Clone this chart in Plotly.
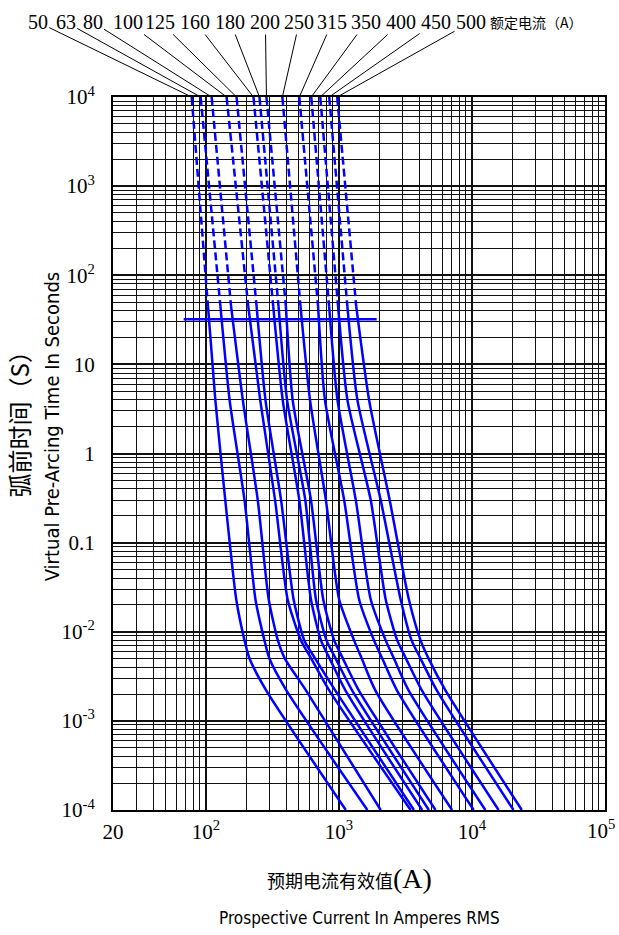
import math
import plotly.graph_objects as go

# ---------------- data ----------------
RATINGS = ["50", "63", "80", "100", "125", "160", "180", "200",
           "250", "315", "350", "400", "450", "500"]

# pre-arcing time levels (s) at which each curve's current was read
TIMES = [1e4, 45, 4, 0.3, 0.023, 0.008, 0.005, 0.0022, 1e-4]

# prospective current (A) of each rating at TIMES
I_50 = [78.1, 103.5, 117.6, 139.7, 168.9, 194.9, 212.5, 283.5, 1126]
I_63 = [91.2, 128.4, 150.5, 194.9, 235.6, 275.2, 299.9, 402.3, 1635]
I_80 = [110.3, 154.4, 189.2, 245.1, 296.3, 347.3, 391.9, 564.8, 2059]
I_100 = [142.9, 207.8, 255.6, 330.9, 411.3, 518.2, 618.9, 844.3, 3455]
I_125 = [169.8, 240.1, 280.0, 367.0, 456.1, 548.6, 663.1, 936.3, 3658]
I_160 = [227.6, 320.3, 377.3, 503.2, 615.8, 731.9, 851.5, 1118, 4221]
I_180 = [252.5, 351.0, 407.1, 558.1, 671.1, 805.8, 944.5, 1255, 4737]
I_200 = [284.9, 398.6, 448.3, 615.8, 761.4, 920.3, 1071, 1409, 5318]
I_250 = [375.3, 513.7, 605.3, 797.5, 1003, 1299, 1484, 1876, 7082]
I_315 = [503.2, 696.0, 784.1, 1094, 1417, 1834, 2117, 2728, 10293]
I_350 = [618.9, 842.8, 974.1, 1338, 1733, 2245, 2591, 3338, 12600]
I_400 = [723.2, 984.2, 1157, 1733, 2245, 2742, 3192, 4200, 15846]
I_450 = [844.3, 1156, 1375, 2059, 2908, 3515, 4107, 5439, 20521]
I_500 = [969.2, 1347, 1683, 2405, 3355, 4107, 4721, 6318, 23680]

CURRENTS = [I_50, I_63, I_80, I_100, I_125, I_160, I_180, I_200,
            I_250, I_315, I_350, I_400, I_450, I_500]

# horizontal marker line
HLINE_TIME = 32
HLINE_CURRENTS = [68, 1920]

X_TICKVALS = [20, 100, 1000, 10000, 100000]
X_TICKTEXT = ["20", "10<sup>2</sup>", "10<sup>3</sup>", "10<sup>4</sup>", "10<sup>5</sup>"]
Y_TICKVALS = [1e-4, 1e-3, 1e-2, 0.1, 1, 10, 100, 1e3, 1e4]
Y_TICKTEXT = ["10<sup>-4</sup>", "10<sup>-3</sup>", "10<sup>-2</sup>", "0.1", "1", "10",
              "10<sup>2</sup>", "10<sup>3</sup>", "10<sup>4</sup>"]

# ---------------- layout constants ----------------
W, H = 619, 935
L, R, T, B = 113, 607, 97, 810
BLUE = "#0000FF"
SERIF = "Liberation Serif"
SANS_C = "DejaVu Sans Condensed, Liberation Sans, sans-serif"
CJK = "Noto Sans CJK SC"

X_MIN_LOG = math.log10(20)


def px_x(current):
    return L + (math.log10(current) - X_MIN_LOG) / (5 - X_MIN_LOG) * (R - L)


def paper_x(px):
    return (px - L) / (R - L)


def paper_y(py):
    return (B - py) / (B - T)


fig = go.Figure()

for name, cur in zip(RATINGS, CURRENTS):
    fig.add_trace(go.Scatter(
        x=cur[0:2], y=TIMES[0:2], mode="lines",
        line=dict(color=BLUE, width=2.5, dash="8px,4px"),
        hoverinfo="skip", showlegend=False, name=name + "A"))
    fig.add_trace(go.Scatter(
        x=cur[1:], y=TIMES[1:], mode="lines",
        line=dict(color=BLUE, width=2.5, shape="spline", smoothing=0.6),
        showlegend=False, name=name + "A"))

fig.add_trace(go.Scatter(
    x=HLINE_CURRENTS, y=[HLINE_TIME, HLINE_TIME], mode="lines",
    line=dict(color=BLUE, width=2.5), showlegend=False, hoverinfo="skip"))

# minor grid values
x_minor = [k * 10 ** d for d in range(1, 5) for k in range(2, 10) if k * 10 ** d >= 20]
y_minor = [k * 10.0 ** d for d in range(-4, 4) for k in range(2, 10)]

# the last x tick label sits at the page edge; it is drawn as an annotation
# (right-shifted inside the page) so it does not overflow the figure
axis_ticktext = X_TICKTEXT[:-1] + [""]

GRID = "#111111"
fig.update_xaxes(
    type="log", range=[X_MIN_LOG, 5],
    tickmode="array", tickvals=X_TICKVALS, ticktext=axis_ticktext,
    showgrid=True, gridcolor=GRID, gridwidth=2,
    minor=dict(tickmode="array", tickvals=x_minor, showgrid=True,
               gridcolor=GRID, gridwidth=1.2, ticks=""),
    showline=True, mirror=True, linecolor="black", linewidth=2,
    ticks="", ticklabelstandoff=2,
    tickfont=dict(family=SERIF, size=21, color="black"),
    zeroline=False,
)
fig.update_yaxes(
    type="log", range=[-4, 4],
    tickmode="array", tickvals=Y_TICKVALS, ticktext=Y_TICKTEXT,
    showgrid=True, gridcolor=GRID, gridwidth=2,
    minor=dict(tickmode="array", tickvals=y_minor, showgrid=True,
               gridcolor=GRID, gridwidth=1.2, ticks=""),
    showline=True, mirror=True, linecolor="black", linewidth=2,
    ticks="", ticklabelstandoff=12,
    tickfont=dict(family=SERIF, size=21, color="black"),
    zeroline=False,
)

annotations = []

# rating labels with leader lines to the top of each curve
LABEL_PX = [38, 66, 93, 128, 161, 196, 231, 266, 300, 333, 367, 402, 437, 472]
LABEL_PY = 22
for name, cur, lx in zip(RATINGS, CURRENTS, LABEL_PX):
    top_px = px_x(cur[0])
    annotations.append(dict(
        x=math.log10(cur[0]), y=math.log10(TIMES[0]), xref="x", yref="y",
        text=name, showarrow=True, arrowhead=0, arrowwidth=1, arrowcolor="black",
        ax=lx - top_px, ay=LABEL_PY - T, standoff=0,
        font=dict(family=SERIF, size=20, color="black"),
    ))


def label(px, py, text, font, angle=0):
    annotations.append(dict(
        x=paper_x(px), y=paper_y(py), xref="paper", yref="paper",
        xanchor="center", yanchor="middle",
        text=text, showarrow=False, textangle=angle, font=font))


# last x tick label (10^5)
annotations.append(dict(
    x=math.log10(X_TICKVALS[-1]), y=paper_y(829), xref="x", yref="paper",
    xanchor="center", yanchor="middle", xshift=-4,
    text=X_TICKTEXT[-1], showarrow=False,
    font=dict(family=SERIF, size=21, color="black")))

label(538, 22, "额定电流（A）", dict(family=CJK, size=14, color="black"))

# y axis titles
label(18, 418, "弧前时间（S）", dict(family=CJK, size=24, color="black"), -90)
label(52, 427, "Virtual Pre-Arcing Time In Seconds",
      dict(family=SANS_C, size=20, color="black"), -90)

# x axis titles
label(350, 878,
      "预期电流有效值<span style='font-family:Liberation Serif;font-size:28px'>(A)</span>",
      dict(family=CJK, size=18, color="black"))
label(360, 918, "Prospective Current In Amperes RMS",
      dict(family=SANS_C, size=17, color="black"))

fig.update_layout(
    width=W, height=H,
    margin=dict(l=L, r=W - R, t=T, b=H - B),
    paper_bgcolor="white", plot_bgcolor="white",
    showlegend=False,
    annotations=annotations,
)

fig.write_html(
    "out.html", config={"displayModeBar": False},
    post_script="document.body.style.margin='0px';")
